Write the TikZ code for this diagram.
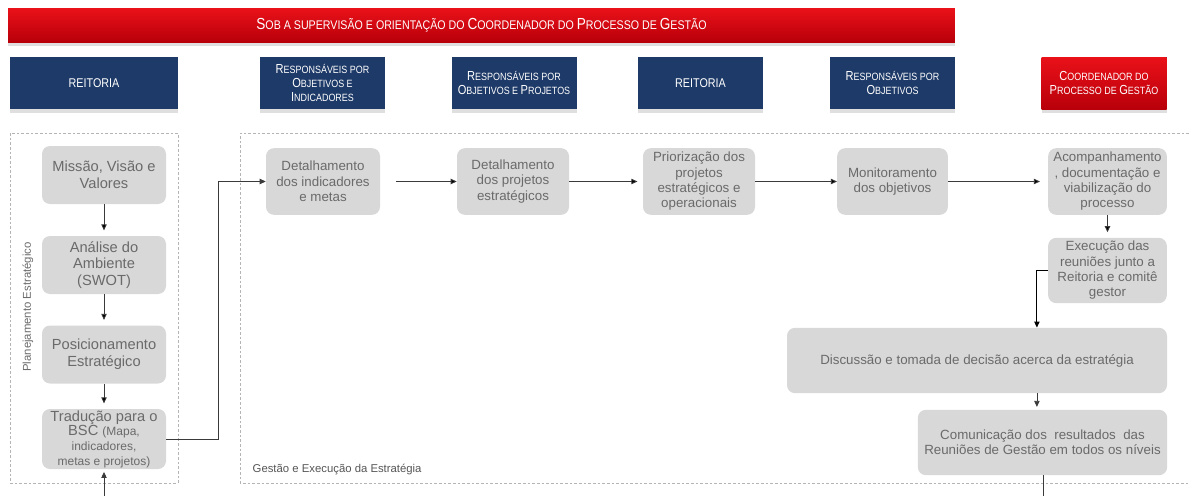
\documentclass[tikz,border=0pt]{standalone}
\usepackage{fontspec}
\setmainfont{Liberation Sans}
\newfontfamily\headfont[FakeStretch=0.85]{Liberation Sans}
\usetikzlibrary{arrows.meta,shadows}

\definecolor{bannerred}{HTML}{EA1119}
\definecolor{darkred}{HTML}{B8000A}
\definecolor{headblue}{HTML}{1E3A68}
\definecolor{boxgray}{HTML}{D8D8D8}
\definecolor{textgray}{HTML}{6A6A6A}
\definecolor{framegray}{HTML}{B4B4B4}
\definecolor{linegray}{HTML}{3A3A3A}

\newcommand\capsl[2]{{\fontsize{9.8}{10.5}\selectfont #1}{\fontsize{7.9}{9}\selectfont #2}}
\newcommand\capbig[2]{{\fontsize{12}{13}\selectfont #1}{\fontsize{9.4}{11}\selectfont #2}}

\begin{document}
\begin{tikzpicture}[x=0.75pt,y=-0.75pt,
  gray node/.style={rectangle,rounded corners=6pt,fill=boxgray,text=textgray,align=center,
    font=\fontsize{10}{11.5}\selectfont,inner sep=1pt,minimum height=50pt},
  big gray/.style={gray node,font=\fontsize{11}{12.5}\selectfont,minimum width=93pt,minimum height=43.5pt},
  head node/.style={rectangle,fill=headblue,text=white,align=center,
    font=\headfont\fontsize{9.5}{10.5}\selectfont,minimum width=93.75pt,minimum height=39pt,
    drop shadow={shadow xshift=0pt,shadow yshift=-3pt,opacity=0.25}},
  red node/.style={head node,top color=bannerred,bottom color=darkred},
  flow/.style={draw=linegray,line width=0.6pt,-{Triangle[length=4.5pt,width=4pt]}},
  frame/.style={draw=framegray,line width=0.5pt,dash pattern=on 2pt off 1.5pt}]

  \useasboundingbox (0,0) rectangle (1189,496);

  % faixa e cabecalhos
  \node[red node,minimum width=710pt,minimum height=25.5pt] (banner) at (481.5,25)
    {\capbig{S}{OB A SUPERVISÃO E ORIENTAÇÃO DO }\capbig{C}{OORDENADOR DO }\capbig{P}{ROCESSO DE }\capbig{G}{ESTÃO}};

  \node[head node,minimum width=126pt] (hRei1) at (94,83) {REITORIA};
  \node[head node] (hObjInd) at (322.5,83)
    {\capsl{R}{ESPONSÁVEIS POR}\\\capsl{O}{BJETIVOS E}\\\capsl{I}{NDICADORES}};
  \node[head node] (hObjProj) at (514,83)
    {\capsl{R}{ESPONSÁVEIS POR}\\\capsl{O}{BJETIVOS E }\capsl{P}{ROJETOS}};
  \node[head node] (hRei2) at (700.5,83) {REITORIA};
  \node[head node] (hObj) at (892.5,83)
    {\capsl{R}{ESPONSÁVEIS POR}\\\capsl{O}{BJETIVOS}};
  \node[red node] (hCoord) at (1104,83)
    {\capsl{C}{OORDENADOR DO}\\\capsl{P}{ROCESSO DE }\capsl{G}{ESTÃO}};

  % areas tracejadas
  \draw[frame] (10,133) rectangle (178,483);
  \draw[frame] (1189,133) -- (240,133) -- (240,483) -- (1189,483);
  \node[rotate=90,text=textgray,font=\fontsize{8.5}{10}\selectfont] (lblPlan) at (28,307) {Planejamento Estratégico};
  \node[anchor=base west,text=textgray!80!black,font=\fontsize{8.5}{10}\selectfont] (lblGest) at (248,472)
    {Gestão e Execução da Estratégia};

  % planejamento
  \node[big gray] (bMis) at (104,175) {Missão, Visão e\\Valores};
  \node[big gray] (bAna) at (104,265) {Análise do\\Ambiente\\(SWOT)};
  \node[big gray] (bPos) at (104,354.5) {Posicionamento\\Estratégico};
  \node[big gray,minimum height=45pt,font=\fontsize{11}{11}\selectfont] (bTrad) at (104,439)
    {Tradução para o\\BSC {\fontsize{9}{11}\selectfont(Mapa,}\\{\fontsize{9}{11}\selectfont indicadores,}\\{\fontsize{9}{11}\selectfont metas e projetos)}};

  % gestao e execucao
  \node[gray node,minimum width=85.5pt] (bInd) at (323,181.5) {Detalhamento\\dos indicadores\\e metas};
  \node[gray node,minimum width=84pt] (bProj) at (513,181.5) {Detalhamento\\dos projetos\\estratégicos};
  \node[gray node,minimum width=84pt] (bPrior) at (699,181.5) {Priorização dos\\projetos\\estratégicos e\\operacionais};
  \node[gray node,minimum width=83pt] (bMonit) at (892.5,181.5) {Monitoramento\\dos objetivos};
  \node[gray node,minimum width=89pt] (bAcomp) at (1107.5,181.5) {Acompanhamento\\, documentação e\\viabilização do\\processo};
  \node[gray node,minimum width=89pt,minimum height=49pt] (bExec) at (1107.5,270.5) {Execução das\\reuniões junto a\\Reitoria e comitê\\gestor};
  \node[gray node,minimum width=285pt,minimum height=49pt] (bDisc) at (977,360.5) {Discussão e tomada de decisão acerca da estratégia};
  \node[gray node,minimum width=187pt,minimum height=49pt] (bCom) at (1042.5,442.5) {Comunicação dos \ resultados \ das\\Reuniões de Gestão em todos os níveis};

  \coordinate (inB) at (104,496);
  \coordinate (outB) at (1043,496);

  \path[flow,shorten >=4pt]
   (bMis) edge (bAna)
   (bAna) edge (bPos)
   (bPos) edge (bTrad);
  \path[flow]
   (bInd) edge[shorten <=12pt] (bProj)
   (bProj) edge[shorten >=4pt] (bPrior)
   (bPrior) edge (bMonit)
   (bMonit) edge[shorten >=6pt] (bAcomp)
   (bAcomp) edge[shorten >=4pt] (bExec);

  \draw[flow] (bTrad.east) -- ++(52,0) |- (bInd.west);
  \draw[flow,draw=black,line width=0.8pt] (bExec.west) -- ++(-11,0) coordinate (k) -- (k |- bDisc.north);
  \draw[flow,shorten >=2pt] (k |- bDisc.south) -- (k |- bCom.north);
  \draw[draw=linegray,line width=0.6pt] (bCom.south -| outB) -- (outB);
  \draw[flow,shorten >=2pt] (inB) -- (bTrad.south);
\end{tikzpicture}
\end{document}
